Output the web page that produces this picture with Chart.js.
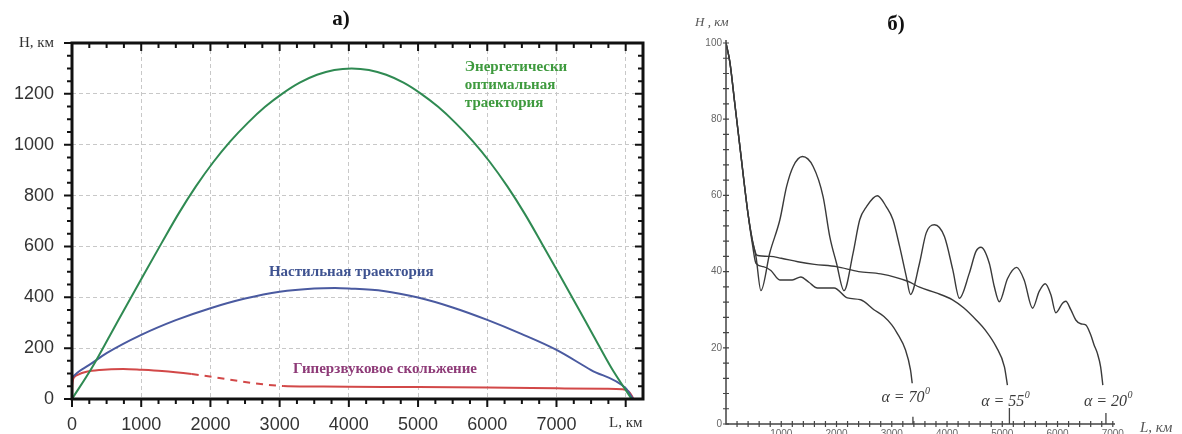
<!DOCTYPE html>
<html><head><meta charset="utf-8">
<script src="https://cdn.jsdelivr.net/npm/chart.js@4.4.1/dist/chart.umd.min.js"></script>
<style>
html,body{margin:0;padding:0;background:#fff;overflow:hidden;width:1182px;height:434px;}
#c1{position:absolute;left:0;top:0;}
#c2{position:absolute;left:680px;top:0;}
</style></head><body>
<canvas id="c1" width="680" height="434"></canvas>
<canvas id="c2" width="502" height="460"></canvas>
<script>
// ===== Panel а) data =====
const energyL = [0,290,540,790,1040,1290,1540,1790,2040,2290,2540,2790,3040,3290,3540,3790,4040,4290,4540,4790,5040,5290,5540,5790,6040,6290,6540,6790,7040,7290,7540,7790,8085];
const energyH = [0,124,246,369,491,611,729,836,931,1014,1086,1149,1201,1244,1275,1294,1300,1294,1275,1244,1201,1149,1086,1014,931,836,729,611,491,369,246,124,0];
const flatL = [0,100,250,500,1000,1500,2000,2500,3000,3500,3800,4000,4500,5000,5500,6000,6500,7000,7500,8000,8100];
const flatH = [85,108,134,180,252,310,357,395,422,435,437,435,425,399,360,311,255,193,114,42,3];
const glideL = [0,5,30,90,210,400,740,1000,1300,1730,3050,3500,4000,5000,6000,7000,7700,7950,8040,8090,8110];
const glideH = [0,55,85,96,107,114,118,115,110,98,51,49,48,47,45,42,40,38,30,12,0];
const glideDashFrom = 1730, glideDashTo = 3050;
const aXLabels = [0,1000,2000,3000,4000,5000,6000,7000,8000];
const aYLabels = [0,200,400,600,800,1000,1200,1400];

// ===== Panel б) data =====
const a20L = [0,70,160,250,400,480,542,632,794,975,1096,1216,1384,1577,1757,1878,2000,2136,2299,2420,2541,2738,2902,3022,3142,3263,3339,3502,3622,3773,3953,4104,4224,4404,4524,4614,4765,4855,4946,5096,5259,5396,5548,5668,5777,5880,5970,6090,6150,6240,6330,6420,6510,6600,6660,6720,6780,6820];
const a20H = [100,95,84,73,55,48,44,35,45,53.6,62.3,67.6,70.2,67.6,59.7,49.2,42.2,35,44.8,53.6,57,59.9,57,53.6,46.6,38.7,34,42.2,50.1,52.3,49.2,40.5,33,39.6,45.3,46.4,42.2,36.1,32.1,38.2,41.1,37.8,30.4,34.8,36.8,33.9,29.2,31.7,32.2,30,27.3,26.3,26,23.4,20.8,18.6,15,10.2];
const a55L = [0,70,160,250,400,480,560,800,1000,1300,1600,2000,2400,2800,3300,3504,3805,4100,4300,4528,4700,4888,5039,5093];
const a55H = [100,95,84,73,55,48,44.3,44,43.5,42.6,41.9,41.3,40,39.4,37.4,35.9,34.4,32.6,30.5,27.3,24.5,20.3,15,10.2];
const a70L = [0,70,160,250,400,480,542,674,812,975,1200,1354,1500,1655,1956,2196,2437,2677,2858,3000,3099,3249,3339,3370];
const a70H = [100,95,84,73,55,47,42.2,41.3,40.3,37.8,37.8,38.6,37.2,35.7,35.7,33.1,32.6,30,28.2,26,23.8,19.4,14.2,10.7];
const bXLabels = [1000,2000,3000,4000,5000,6000,7000];
const bYLabels = [0,20,40,60,80,100];
const alphaNames = ['70','55','20'];
const alphaEndL = [3383,5129,6876];

const SERIF = "'Liberation Serif','Times New Roman',serif";
const SANS = "'Liberation Sans',Arial,sans-serif";
const pts = (xs, ys) => xs.map((v, i) => ({x: v, y: ys[i]}));

// ---------- Panel а) ----------
const A = {xMax: 8250, xMinor: 250, xMajor: 1000, yMax: 1400, yMinor: 50, yMajor: 200};

const frameA = {
  id: 'frameA',
  afterDraw(chart) {
    const {ctx, chartArea: a, scales: {x, y}} = chart;
    ctx.save();
    ctx.strokeStyle = '#111';
    ctx.lineWidth = 2;
    ctx.beginPath();
    for (let v = 0; v < A.xMax; v += A.xMinor) {
      const p = x.getPixelForValue(v);
      const len = v % A.xMajor === 0 ? 8 : 5;
      ctx.moveTo(p, a.bottom); ctx.lineTo(p, a.bottom + len);
      ctx.moveTo(p, a.top); ctx.lineTo(p, a.top + len);
    }
    for (let v = 0; v <= A.yMax; v += A.yMinor) {
      const p = y.getPixelForValue(v);
      const len = v % A.yMajor === 0 ? 8 : 5;
      ctx.moveTo(a.left, p); ctx.lineTo(a.left - len, p);
      ctx.moveTo(a.right, p); ctx.lineTo(a.right - len, p);
    }
    ctx.stroke();
    ctx.lineWidth = 3;
    ctx.strokeRect(a.left, a.top, a.right - a.left, a.bottom - a.top);

    // texts
    ctx.textBaseline = 'middle';
    ctx.textAlign = 'center';
    ctx.fillStyle = '#111';
    ctx.font = 'bold 21px ' + SERIF;
    ctx.fillText('а)', x.getPixelForValue(3885), 20);

    ctx.textAlign = 'left';
    ctx.font = 'bold 15px ' + SERIF;
    ctx.fillStyle = '#3e9a3e';
    const ex = x.getPixelForValue(5676);
    ctx.fillText('Энергетически', ex, y.getPixelForValue(1306));
    ctx.fillText('оптимальная', ex, y.getPixelForValue(1235));
    ctx.fillText('траектория', ex, y.getPixelForValue(1164));
    ctx.fillStyle = '#3f5391';
    ctx.fillText('Настильная траектория', x.getPixelForValue(2845), y.getPixelForValue(499));
    ctx.fillStyle = '#8e3b78';
    ctx.fillText('Гиперзвуковое скольжение', x.getPixelForValue(3192), y.getPixelForValue(118));
    ctx.restore();
  }
};

new Chart(document.getElementById('c1'), {
  type: 'line',
  data: {datasets: [
    {data: pts(energyL, energyH), borderColor: '#2f8a52', borderWidth: 2, pointRadius: 0, cubicInterpolationMode: 'monotone', fill: false},
    {data: pts(flatL, flatH), borderColor: '#4a5aa0', borderWidth: 2, pointRadius: 0, cubicInterpolationMode: 'monotone', fill: false},
    {data: pts(glideL, glideH), borderColor: '#d24848', borderWidth: 2, pointRadius: 0, cubicInterpolationMode: 'monotone', fill: false,
     segment: {borderDash: c => (c.p0.parsed.x >= glideDashFrom && c.p1.parsed.x <= glideDashTo) ? [7, 6] : undefined}}
  ]},
  options: {
    responsive: false, animation: false, devicePixelRatio: 1,
    layout: {padding: {top: 43, right: 37, left: 0, bottom: 0}},
    plugins: {legend: {display: false}, tooltip: {enabled: false}},
    scales: {
      x: {
        type: 'linear', min: 0, max: A.xMax,
        afterBuildTicks: s => { s.ticks = aXLabels.map(v => ({value: v})); },
        afterFit: s => { s.height = 35; },
        grid: {color: '#c8c8c8', lineWidth: 1, drawTicks: false},
        border: {display: false, dash: [4, 3]},
        ticks: {
          padding: 15, maxRotation: 0, autoSkip: false,
          color: '#333',
          font: c => (c.tick && c.tick.value === 8000) ? {family: SERIF, size: 15} : {family: SANS, size: 18},
          callback: v => v === 8000 ? 'L, км' : String(v)
        }
      },
      y: {
        type: 'linear', min: 0, max: A.yMax,
        afterBuildTicks: s => { s.ticks = aYLabels.map(v => ({value: v})); },
        afterFit: s => { s.width = 72; },
        grid: {color: '#c8c8c8', lineWidth: 1, drawTicks: false},
        border: {display: false, dash: [4, 3]},
        ticks: {
          padding: 18, autoSkip: false, color: '#333',
          font: c => (c.tick && c.tick.value === 1400) ? {family: SERIF, size: 15} : {family: SANS, size: 18},
          callback: v => v === 1400 ? 'H, км' : String(v)
        }
      }
    }
  },
  plugins: [frameA]
});

// ---------- Panel б) ----------
const B = {xMax: 7040, xMinor: 200, yMax: 100, yMinor: 4};

const frameB = {
  id: 'frameB',
  afterDraw(chart) {
    const {ctx, chartArea: a, scales: {x, y}} = chart;
    ctx.save();
    ctx.strokeStyle = '#444';
    ctx.lineWidth = 1.5;
    ctx.beginPath();
    const x0 = x.getPixelForValue(0), y0 = y.getPixelForValue(0);
    ctx.moveTo(x0, y.getPixelForValue(B.yMax) - 3); ctx.lineTo(x0, y0);
    ctx.lineTo(x.getPixelForValue(B.xMax), y0);
    ctx.stroke();
    ctx.lineWidth = 1.2;
    ctx.beginPath();
    for (let v = B.xMinor; v <= 7000; v += B.xMinor) {
      const p = x.getPixelForValue(v);
      ctx.moveTo(p, y0 - 3); ctx.lineTo(p, y0 + 3);
    }
    for (let v = 0; v <= B.yMax; v += B.yMinor) {
      const p = y.getPixelForValue(v);
      ctx.moveTo(x0 - 3, p); ctx.lineTo(x0 + 3, p);
    }
    ctx.stroke();

    // alpha markers and labels
    const labL = [3249, 5054, 6913], labH = [6.8, 5.8, 5.8], markTop = [1.9, 4.2, 2.9];
    ctx.strokeStyle = '#444';
    ctx.lineWidth = 1.3;
    ctx.beginPath();
    alphaEndL.forEach((L, i) => {
      const p = x.getPixelForValue(L);
      ctx.moveTo(p, y0); ctx.lineTo(p, y.getPixelForValue(markTop[i]));
    });
    ctx.stroke();
    ctx.fillStyle = '#3a3a3a';
    ctx.textBaseline = 'middle';
    ctx.textAlign = 'left';
    alphaNames.forEach((n, i) => {
      const main = 'α = ' + n;
      ctx.font = 'italic 16px ' + SERIF;
      const w1 = ctx.measureText(main).width;
      ctx.font = 'italic 10px ' + SERIF;
      const w2 = ctx.measureText('0').width;
      const cx = x.getPixelForValue(labL[i]) - (w1 + w2) / 2;
      const cy = y.getPixelForValue(labH[i]);
      ctx.font = 'italic 16px ' + SERIF;
      ctx.fillText(main, cx, cy);
      ctx.font = 'italic 10px ' + SERIF;
      ctx.fillText('0', cx + w1 + 0.5, cy - 7);
    });

    // titles
    ctx.fillStyle = '#555';
    ctx.font = 'italic 13px ' + SERIF;
    ctx.fillText('H , км', x0 - 31, y.getPixelForValue(100) - 20);
    ctx.font = 'italic 15px ' + SERIF;
    ctx.fillText('L, км', x.getPixelForValue(B.xMax) + 25, y0 + 4);
    ctx.fillStyle = '#111';
    ctx.textAlign = 'center';
    ctx.font = 'bold 21px ' + SERIF;
    ctx.fillText('б)', x0 + 170, 25);
    ctx.restore();
  }
};

const curveB = (L, H) => ({data: pts(L, H), borderColor: '#3a3a3a', borderWidth: 1.4, pointRadius: 0, cubicInterpolationMode: 'monotone', fill: false});

new Chart(document.getElementById('c2'), {
  type: 'line',
  data: {datasets: [curveB(a20L, a20H), curveB(a55L, a55H), curveB(a70L, a70H)]},
  options: {
    responsive: false, animation: false, devicePixelRatio: 1,
    layout: {padding: {top: 43, right: 67, left: 0, bottom: 0}},
    plugins: {legend: {display: false}, tooltip: {enabled: false}},
    scales: {
      x: {
        type: 'linear', min: 0, max: B.xMax,
        afterBuildTicks: s => { s.ticks = bXLabels.map(v => ({value: v})); },
        afterFit: s => { s.height = 36; },
        grid: {display: false, drawTicks: false},
        border: {display: false},
        ticks: {padding: 4, maxRotation: 0, autoSkip: false, color: '#666', font: {family: SANS, size: 10}, callback: v => String(v)}
      },
      y: {
        type: 'linear', min: 0, max: B.yMax,
        afterBuildTicks: s => { s.ticks = bYLabels.map(v => ({value: v})); },
        afterFit: s => { s.width = 46; },
        grid: {display: false, drawTicks: false},
        border: {display: false},
        ticks: {padding: 4, autoSkip: false, color: '#666', font: {family: SANS, size: 10}, callback: v => String(v)}
      }
    }
  },
  plugins: [frameB]
});
</script>
</body></html>
